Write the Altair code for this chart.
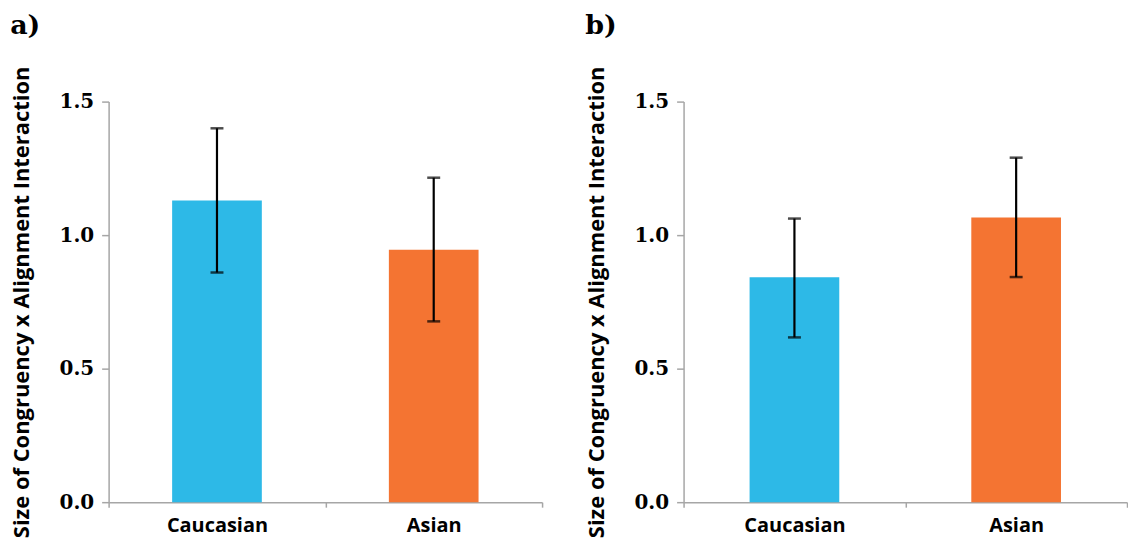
import altair as alt
import pandas as pd

groups = ["Caucasian", "Asian"]
colors = ["#2DB9E7", "#F47432"]

a_mean = [1.13, 0.945]
a_low = [0.86, 0.677]
a_high = [1.40, 1.215]

b_mean = [0.842, 1.066]
b_low = [0.617, 0.843]
b_high = [1.062, 1.29]

y_title = "Size of Congruency x Alignment Interaction"
SANS = "Open Sans"
SERIF = "DejaVu Serif"
AXIS_GREY = "#A6A6A6"


def panel(label, means, lows, highs, width):
    df = pd.DataFrame({"group": groups, "mean": means, "low": lows, "high": highs})
    x = alt.X(
        "group:N",
        sort=groups,
        title=None,
        scale=alt.Scale(paddingInner=0, paddingOuter=0),
        axis=alt.Axis(
            labelAngle=0,
            labelFont=SANS,
            labelFontSize=20,
            labelFontWeight="bold",
            labelColor="#000000",
            labelPadding=8,
            tickBand="extent",
            tickSize=5,
            tickColor=AXIS_GREY,
            domainColor=AXIS_GREY,
            domainWidth=1.5,
            tickWidth=1.5,
        ),
    )
    y_scale = alt.Scale(domain=[0, 1.5], nice=False)
    base = alt.Chart(df)
    bars = base.mark_bar(size=90).encode(
        x=x,
        y=alt.Y(
            "mean:Q",
            scale=y_scale,
            title=y_title,
            axis=alt.Axis(
                values=[0, 0.5, 1.0, 1.5],
                format=".1f",
                grid=False,
                labelFont=SERIF,
                labelFontSize=20,
                labelFontWeight="bold",
                labelColor="#000000",
                labelPadding=8,
                tickSize=7,
                tickColor=AXIS_GREY,
                tickWidth=1.5,
                domainColor=AXIS_GREY,
                domainWidth=1.5,
                titleFont=SANS,
                titleFontSize=22,
                titleFontWeight="bold",
                titleColor="#000000",
                titlePadding=26,
            ),
        ),
        color=alt.Color("group:N", scale=alt.Scale(domain=groups, range=colors), legend=None),
    )
    xe = alt.X("group:N", sort=groups)
    rule = base.mark_rule(color="black", strokeWidth=2.2).encode(
        x=xe, y=alt.Y("low:Q", scale=y_scale), y2="high:Q"
    )
    cap_lo = base.mark_tick(color="black", size=13, thickness=2.5, orient="horizontal").encode(
        x=xe, y=alt.Y("low:Q", scale=y_scale)
    )
    cap_hi = base.mark_tick(color="black", size=13, thickness=2.5, orient="horizontal").encode(
        x=xe, y=alt.Y("high:Q", scale=y_scale)
    )
    return alt.layer(bars, rule, cap_lo, cap_hi).properties(
        width=width,
        height=402,
        title=alt.TitleParams(
            text=label,
            anchor="start",
            frame="bounds",
            font=SERIF,
            fontSize=27,
            fontWeight="bold",
            color="#000000",
            offset=26,
        ),
    )


chart = alt.hconcat(
    panel("a)", a_mean, a_low, a_high, 435),
    panel("b)", b_mean, b_low, b_high, 445),
    spacing=42,
).properties(
    padding={"left": 10, "top": 11, "right": 0, "bottom": 0}
).configure_view(stroke=None)

chart.save("out.html", embed_options={"renderer": "svg", "actions": False})
